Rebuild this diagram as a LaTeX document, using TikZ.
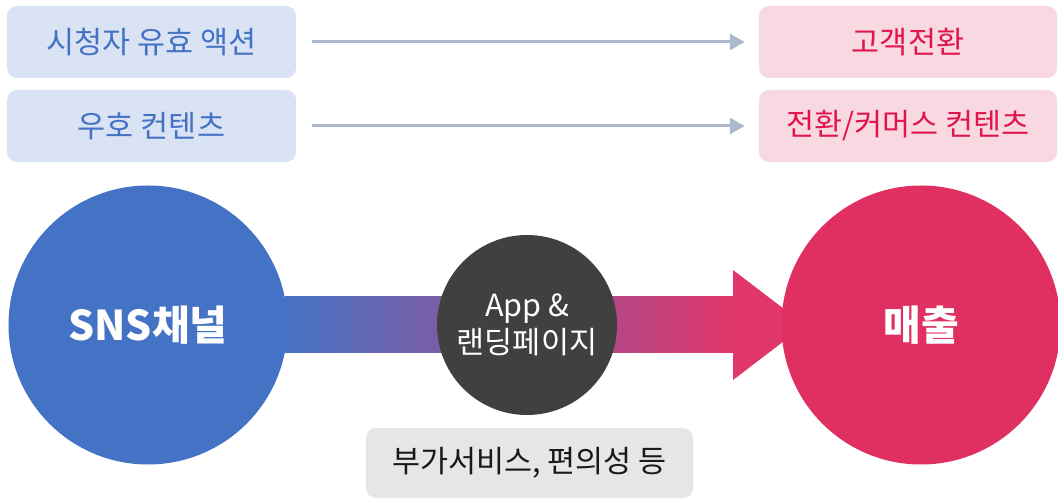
\documentclass[tikz,border=0pt]{standalone}
\usepackage{fontspec}
\setmainfont{Noto Sans CJK KR}
\usetikzlibrary{arrows.meta}
\definecolor{boxblue}{HTML}{DAE3F3}
\definecolor{txtblue}{HTML}{4472C4}
\definecolor{boxpink}{HTML}{F8D9E1}
\definecolor{txtpink}{HTML}{E2144C}
\definecolor{arrowgray}{HTML}{ADB9CA}
\definecolor{circblue}{HTML}{4472C4}
\definecolor{circred}{HTML}{E03062}
\definecolor{circdark}{HTML}{404040}
\definecolor{boxgray}{HTML}{E7E6E6}
\definecolor{bandmid}{HTML}{9A58A4}
\definecolor{bandend}{HTML}{E0366A}
\begin{document}
\begin{tikzpicture}[x=1bp,y=-1bp,
  lbox/.style={fill=boxblue, rounded corners=10bp, minimum width=289bp, minimum height=72bp, inner sep=0pt, text=txtblue, font=\fontsize{30.5bp}{34bp}\selectfont},
  rbox/.style={fill=boxpink, rounded corners=10bp, minimum width=298bp, minimum height=72bp, inner sep=0pt, text=txtpink, font=\fontsize{30.5bp}{34bp}\selectfont},
  flow/.style={draw=arrowgray, line width=3bp, shorten <=16bp, shorten >=14bp, -{Triangle[length=15bp,width=16bp]}},
  bigcirc/.style={circle, inner sep=0pt, text=white, font=\fontsize{41bp}{45bp}\selectfont\bfseries},
  midcirc/.style={circle, fill=circdark, minimum size=180bp, inner sep=0pt, text=white, align=center, font=\fontsize{30.5bp}{37bp}\selectfont},
  gbox/.style={fill=boxgray, rounded corners=10bp, minimum width=327bp, minimum height=70bp, inner sep=0pt, text=black!90, font=\fontsize{30.5bp}{34bp}\selectfont}
]
\useasboundingbox (0,0) rectangle (1058,499);
\fill[white] (0,0) rectangle (1058,499);

% top boxes
\node[lbox] (a1) at (151.5,42) {시청자 유효 액션};
\node[lbox] (a2) at (151.5,126) {우호 컨텐츠};
\node[rbox] (b1) at (908,42) {고객전환};
\node[rbox] (b2) at (908,126) {전환/커머스 컨텐츠};
\draw[flow] (a1.east) -- (b1.west);
\draw[flow] (a2.east) -- (b2.west);

% big arrow band
\shade[left color=circblue, middle color=bandmid, right color=bandend] (285,297) rectangle (737,353);
\fill[bandend] (733,270) -- (805,325) -- (733,380) -- cycle;

% circles
\node[bigcirc, fill=circblue, minimum size=279bp] (sns) at (148,325) {SNS채널};
\node[bigcirc, fill=circred, minimum size=279bp] (rev) at (921,325) {매출};
\node[midcirc] (app) at (527,325) {App \&\\랜딩페이지};

% bottom box
\node[gbox] (extra) at (529.5,463) {부가서비스, 편의성 등};
\end{tikzpicture}
\end{document}
